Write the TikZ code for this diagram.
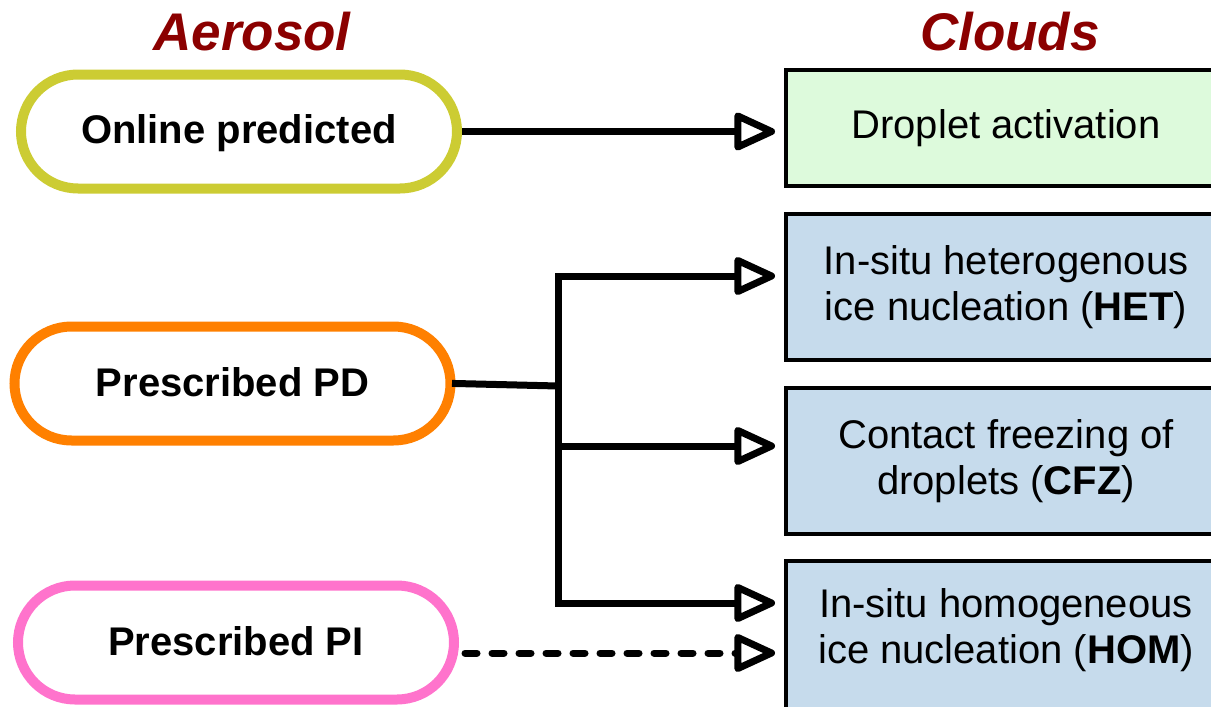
\documentclass[tikz,border=0pt]{standalone}
\usepackage{fontspec}
\setmainfont{Liberation Sans}
\usetikzlibrary{arrows.meta}
\definecolor{titlered}{HTML}{8B0000}
\definecolor{onlinecol}{HTML}{CCCC33}
\definecolor{pdcol}{HTML}{FF8000}
\definecolor{picol}{HTML}{FF73CC}
\definecolor{greenfill}{HTML}{DDFADC}
\definecolor{bluefill}{HTML}{C6DBEC}
\tikzset{
  titletext/.style={font=\fontsize{53}{60}\selectfont\bfseries\itshape, text=titlered, anchor=base},
  aerobox/.style={draw, line width=10pt, fill=white, minimum width=436pt, minimum height=114pt,
    rounded corners=57pt, inner sep=0pt, font=\fontsize{40}{46}\selectfont\bfseries,
    text height=25pt, text depth=0pt},
  cloudbox/.style={draw=black, line width=4pt, minimum width=440pt, inner sep=0pt,
    font=\fontsize{40}{46}\selectfont, align=center},
  link/.style={line width=7pt, line cap=rect},
  tipstyle/.style={-{Triangle[open, length=46pt, width=40pt, line join=round]}},
  arrowlink/.style={line width=7pt, line join=round, tipstyle, shorten >=9pt},
  dashlink/.style={line width=7pt, line cap=round, line join=round,
    dash pattern=on 12pt off 15pt, tipstyle, shorten >=9pt},
}
\begin{document}
\begin{tikzpicture}[x=1pt,y=-1pt]
\useasboundingbox (0,0) rectangle (1211,707);
% titles
\node[titletext] (aerotitle) at (252,50) {Aerosol};
\node[titletext] (cloudtitle) at (1010,50) {Clouds};
% aerosol stadiums
\node[aerobox, draw=onlinecol, text height=23pt] (online) at (239,131.5) {Online predicted};
\node[aerobox, draw=pdcol] (pd) at (232.5,383.5) {Prescribed PD};
\node[aerobox, draw=picol] (pi) at (236,642.5) {Prescribed PI};
% cloud boxes
\node[cloudbox, fill=greenfill, minimum height=116pt] (drop) at (1006,128) {Droplet activation};
\node[cloudbox, fill=bluefill, minimum height=146pt] (het) at (1006,287)
  {In-situ heterogenous\\ice nucleation (\textbf{HET})};
\node[cloudbox, fill=bluefill, minimum height=146pt] (cfz) at (1006,461)
  {Contact freezing of\\droplets (\textbf{CFZ})};
\node[cloudbox, fill=bluefill, minimum height=169pt] (hom) at (1006,645.5) {};
\node[font=\fontsize{40}{46}\selectfont, align=center] (homtext) at (1006,630)
  {In-situ homogeneous\\ice nucleation (\textbf{HOM})};
% junction coordinates
\coordinate (hub) at (558,386);
\coordinate (jhet) at (558,276);
\coordinate (jcfz) at (558,446);
\coordinate (jhom) at (558,603);
\coordinate (pidash) at ([yshift=-10.5pt]pi.east);
% connectors
\draw[arrowlink] (online.east) -- (online.east -| drop.west);
\draw[link] (pd.east) -- (hub);
\draw[link] (jhet) -- (jhom);
\draw[arrowlink] (jhet) -- (jhet -| het.west);
\draw[arrowlink] (jcfz) -- (jcfz -| cfz.west);
\draw[arrowlink] (jhom) -- (jhom -| hom.west);
\draw[dashlink] ([xshift=6pt]pidash) -- (pidash -| hom.west);
\end{tikzpicture}
\end{document}
